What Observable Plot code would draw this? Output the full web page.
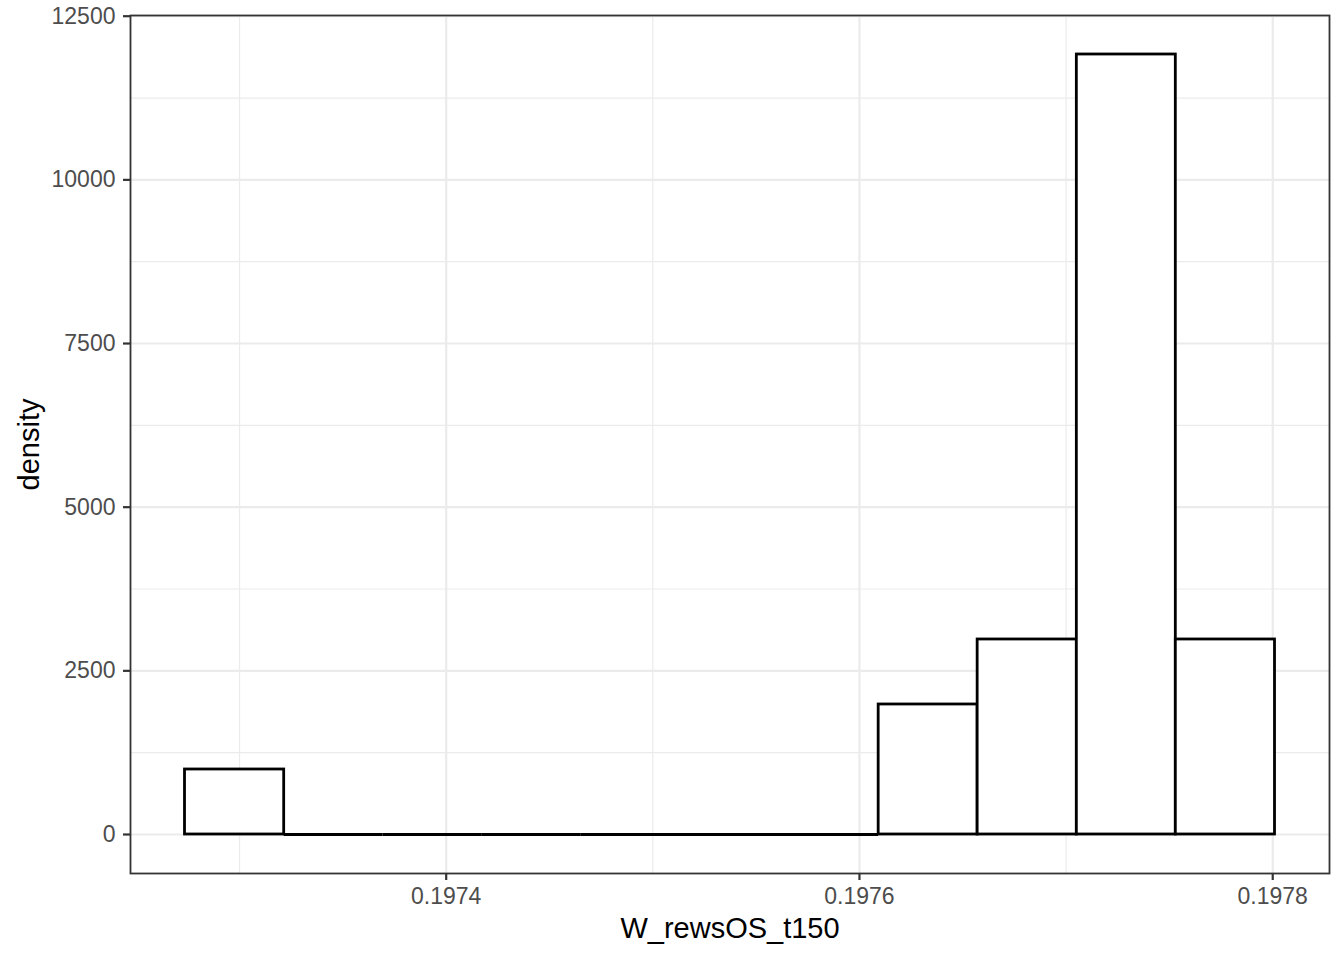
<!DOCTYPE html>
<html><head><meta charset="utf-8">
<script src="https://cdn.jsdelivr.net/npm/d3@7"></script>
<script src="https://cdn.jsdelivr.net/npm/@observablehq/plot@0.6"></script>
<style>html,body{margin:0;padding:0;background:#fff;overflow:hidden} svg{display:block}</style>
</head><body><div id="chart"></div>
<script>
// Histogram bins
const binStart = [0.1972736, 0.1973216, 0.1973695, 0.1974175, 0.1974654, 0.1975134, 0.1975613, 0.1976093, 0.1976572, 0.1977052, 0.1977531];
const binEnd   = [0.1973216, 0.1973695, 0.1974175, 0.1974654, 0.1975134, 0.1975613, 0.1976093, 0.1976572, 0.1977052, 0.1977531, 0.1978011];
const density  = [993, 0, 0, 0, 0, 0, 0, 1986, 2979, 11915, 2979];

const xTicks = [0.1974, 0.1976, 0.1978];
const xTickLabels = ["0.1974", "0.1976", "0.1978"];
const xMinorTicks = [0.1973, 0.1975, 0.1977];
const yTicks = [0, 2500, 5000, 7500, 10000, 12500];
const yTickLabels = ["0", "2500", "5000", "7500", "10000", "12500"];
const yMinorTicks = [1250, 3750, 6250, 8750, 11250];
const xTitle = "W_rewsOS_t150";
const yTitle = "density";

const bins = binStart.map((s, i) => ({x1: s, x2: binEnd[i], density: density[i]}));
const yMax = d3.max(density);
const xMin = d3.min(binStart), xMax = d3.max(binEnd);
const xPad = (xMax - xMin) * 0.05;

const grid = "#ebebeb";
const plot = Plot.plot({
  width: 1344, height: 960,
  marginLeft: 130, marginRight: 15, marginTop: 15, marginBottom: 87,
  style: {fontFamily: '"Liberation Sans", Arial, Helvetica, sans-serif', background: "#fff", overflow: "visible"},
  x: {domain: [xMin - xPad, xMax + xPad]},
  y: {domain: [-0.05 * yMax, 1.05 * yMax]},
  marks: [
    Plot.gridX(xMinorTicks, {stroke: grid, strokeOpacity: 1, strokeWidth: 1.2}),
    Plot.gridY(yMinorTicks, {stroke: grid, strokeOpacity: 1, strokeWidth: 1.2}),
    Plot.gridX(xTicks, {stroke: grid, strokeOpacity: 1, strokeWidth: 2.2}),
    Plot.gridY(yTicks, {stroke: grid, strokeOpacity: 1, strokeWidth: 2.2}),
    Plot.rectY(bins, {x1: "x1", x2: "x2", y: "density", fill: "white", stroke: "black", strokeWidth: 2.8}),
    Plot.ruleY(bins.filter(d => d.density === 0), {x1: "x1", x2: "x2", y: () => 0, stroke: "black", strokeWidth: 2.8}),
    Plot.frame({stroke: "#333333", strokeWidth: 1.8}),
    Plot.axisX(xTicks, {tickSize: 7, tickPadding: 7, strokeWidth: 2.2, stroke: "#333333", fill: "#4d4d4d", fontSize: 23,
      tickFormat: d => xTickLabels[xTicks.indexOf(d)], label: null}),
    Plot.axisY(yTicks, {tickSize: 7, tickPadding: 8, strokeWidth: 2.2, stroke: "#333333", fill: "#4d4d4d", fontSize: 23,
      tickFormat: d => yTickLabels[yTicks.indexOf(d)], label: null}),
    Plot.text([xTitle], {text: d => d, frameAnchor: "bottom", dy: 64, lineAnchor: "bottom", textAnchor: "middle", fontSize: 29, fill: "black"}),
    Plot.text([yTitle], {text: d => d, frameAnchor: "left", dx: -92, rotate: -90, lineAnchor: "bottom", textAnchor: "middle", fontSize: 29, fill: "black"})
  ]
});
document.getElementById("chart").appendChild(plot);
</script>
</body></html>
